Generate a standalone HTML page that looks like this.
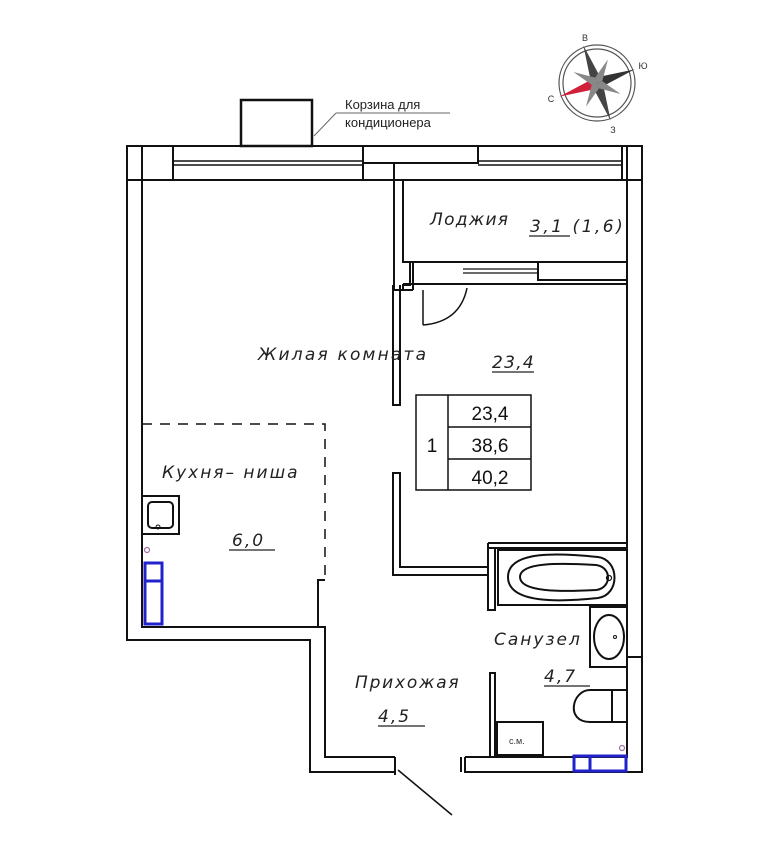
<!DOCTYPE html>
<html><head><meta charset="utf-8"><style>
body{margin:0;background:#fff}
svg{display:block}
.t{font-family:"DejaVu Sans","Liberation Sans",sans-serif;font-style:italic;fill:#222;letter-spacing:1.3px}
</style></head><body>
<svg width="768" height="864" viewBox="0 0 768 864" xmlns="http://www.w3.org/2000/svg">
<g fill="none" stroke="#111" stroke-width="2">
<rect x="241" y="100" width="71" height="46" stroke-width="2.5"/>
<line x1="314" y1="136" x2="336" y2="113" stroke="#666" stroke-width="1"/>
<line x1="336" y1="113" x2="450" y2="113" stroke="#666" stroke-width="1"/>
<rect x="127" y="146" width="515" height="34"/>
<line x1="173" y1="161" x2="363" y2="161" stroke-width="1.5"/>
<line x1="173" y1="165" x2="363" y2="165" stroke-width="1.5"/>
<line x1="478" y1="161" x2="622" y2="161" stroke-width="1.5"/>
<line x1="478" y1="165" x2="622" y2="165" stroke-width="1.5"/>
<rect x="142" y="146" width="31" height="34" fill="#fff"/>
<rect x="363" y="146" width="115" height="17" fill="#fff"/>
<rect x="363" y="163" width="31" height="17" fill="#fff"/>
<rect x="622" y="146" width="5" height="34" fill="#fff"/>
<path d="M127 146 V640 H310 V772 H395"/>
<path d="M142 180 V627 H325 V757 H395"/>
<line x1="395" y1="757" x2="395" y2="775"/>
<line x1="398" y1="770" x2="452" y2="815" stroke-width="1.5"/>
<path d="M642 146 V772 H465 V757"/>
<path d="M627 180 V757 H465"/>
<line x1="461" y1="757" x2="461" y2="772"/>
<line x1="627" y1="657" x2="642" y2="657"/>
<path d="M394 180 V290 H403"/>
<path d="M403 180 V262 H627"/>
<path d="M410 262 V285 H403 V290"/>
<line x1="413" y1="262" x2="413" y2="290"/>
<rect x="538" y="262" width="89" height="18"/>
<line x1="463" y1="269" x2="538" y2="269" stroke-width="1.2"/>
<line x1="463" y1="273" x2="538" y2="273" stroke-width="1.2"/>
<line x1="403" y1="284" x2="627" y2="284"/>
<line x1="403" y1="290" x2="413" y2="290"/>
<line x1="423" y1="290" x2="423" y2="325" stroke-width="1.5"/>
<path d="M423 325 Q460 322 467 288" stroke-width="1.5"/>
<path d="M393 285 V405 H400 V285"/>
<path d="M393 473 H400 V567 H488 V575 H393 Z"/>
<path d="M488 543 H627 M488 548 H627"/>
<path d="M488 543 V610 H495 V548"/>
<rect x="498" y="550" width="129" height="55"/>
<path d="M508 577 C508 550 560 553 598 557 C620 560 620 595 598 598 C560 602 508 604 508 577 Z"/>
<path d="M520 577 C520 562 560 563 596 565 C612 567 612 588 596 590 C560 592 520 592 520 577 Z"/>
<circle cx="609" cy="578" r="2.5" stroke-width="1.2"/>
<rect x="590" y="607" width="37" height="60"/>
<ellipse cx="609" cy="637" rx="15" ry="22"/>
<circle cx="615" cy="637" r="1.5" stroke-width="1"/>
<path d="M612 690 H590 C572 690 565 722 590 722 H612 Z"/>
<rect x="612" y="690" width="15" height="32"/>
<rect x="497" y="722" width="46" height="33"/>
<path d="M490 673 V757 H495 V673 Z"/>
<path d="M142 424 H325 V575" stroke-dasharray="10 8" stroke-width="1.5"/>
<path d="M318 627 V580 H325"/>
<rect x="142" y="496" width="37" height="38"/>
<rect x="148" y="502" width="25" height="26" rx="4"/>
<circle cx="158" cy="527" r="2" stroke-width="1"/>
<rect x="416" y="395" width="115" height="95" stroke-width="1.5"/>
<line x1="448" y1="395" x2="448" y2="490" stroke-width="1.5"/>
<line x1="448" y1="427" x2="531" y2="427" stroke-width="1.5"/>
<line x1="448" y1="459" x2="531" y2="459" stroke-width="1.5"/>
</g>
<g fill="none" stroke="#2222cc" stroke-width="3">
<rect x="145" y="563" width="17" height="61"/>
<line x1="145" y1="581" x2="162" y2="581"/>
<rect x="574" y="756" width="52" height="15"/>
<line x1="590" y1="756" x2="590" y2="771"/>
</g>
<circle cx="147" cy="550" r="2.5" fill="none" stroke="#a070a0" stroke-width="1.2"/>
<circle cx="622" cy="748" r="2.5" fill="none" stroke="#a070a0" stroke-width="1.2"/>
<g stroke="#222" stroke-width="1.2">
<line x1="529" y1="236" x2="570" y2="236"/>
<line x1="492" y1="372" x2="534" y2="372"/>
<line x1="229" y1="550" x2="275" y2="550"/>
<line x1="544" y1="686" x2="590" y2="686"/>
<line x1="378" y1="726" x2="425" y2="726"/>
</g>
<text x="345" y="109" font-family="Liberation Sans,sans-serif" font-size="13" fill="#222">Корзина для</text>
<text x="345" y="127" font-family="Liberation Sans,sans-serif" font-size="13" fill="#222">кондиционера</text>
<text class="t" x="430" y="225" font-size="17">Лоджия</text>
<text class="t" x="530" y="232" font-size="17" style="letter-spacing:2.5px">3,1  (1,6)</text>
<text class="t" x="258" y="360" font-size="17" style="letter-spacing:2.2px">Жилая  комната</text>
<text class="t" x="492" y="368" font-size="17">23,4</text>
<text class="t" x="162" y="478" font-size="17" style="letter-spacing:2px">Кухня– ниша</text>
<text class="t" x="232" y="546" font-size="17" style="letter-spacing:2px">6,0</text>
<text class="t" x="494" y="645" font-size="17" style="letter-spacing:2px">Санузел</text>
<text class="t" x="544" y="682" font-size="17" style="letter-spacing:2px">4,7</text>
<text class="t" x="355" y="688" font-size="17" style="letter-spacing:1.8px">Прихожая</text>
<text class="t" x="378" y="722" font-size="17" style="letter-spacing:2px">4,5</text>
<text x="509" y="744" font-family="Liberation Sans,sans-serif" font-size="9" fill="#333">с.м.</text>
<g font-family="Liberation Sans,sans-serif" font-size="19" fill="#111" text-anchor="middle">
<text x="490" y="420">23,4</text>
<text x="490" y="452">38,6</text>
<text x="490" y="484">40,2</text>
<text x="432" y="452">1</text>
</g>
<g transform="translate(597,83)">
<circle r="38" fill="none" stroke="#555" stroke-width="1.2"/>
<circle r="34" fill="none" stroke="#555" stroke-width="1.2"/>
<g transform="rotate(-20)">
<polygon points="0,-40 5,-5 0,0 -5,-5" fill="#444"/>
<polygon points="0,40 5,5 0,0 -5,5" fill="#444"/>
<polygon points="40,0 5,5 0,0 5,-5" fill="#333"/>
<polygon points="-40,0 -5,-5 0,0 -5,5" fill="#d0203a"/>
<g transform="rotate(45)">
<polygon points="0,-26 4,-4 0,0 -4,-4" fill="#888"/>
<polygon points="0,26 4,4 0,0 -4,4" fill="#888"/>
<polygon points="26,0 4,4 0,0 4,-4" fill="#888"/>
<polygon points="-26,0 -4,-4 0,0 -4,4" fill="#888"/>
</g>
</g>
<g font-family="Liberation Sans,sans-serif" font-size="9" fill="#333" text-anchor="middle">
<text x="-12" y="-42">В</text>
<text x="46" y="-14">Ю</text>
<text x="16" y="50">З</text>
<text x="-46" y="19">С</text>
</g>
</g>
</svg>
</body></html>
